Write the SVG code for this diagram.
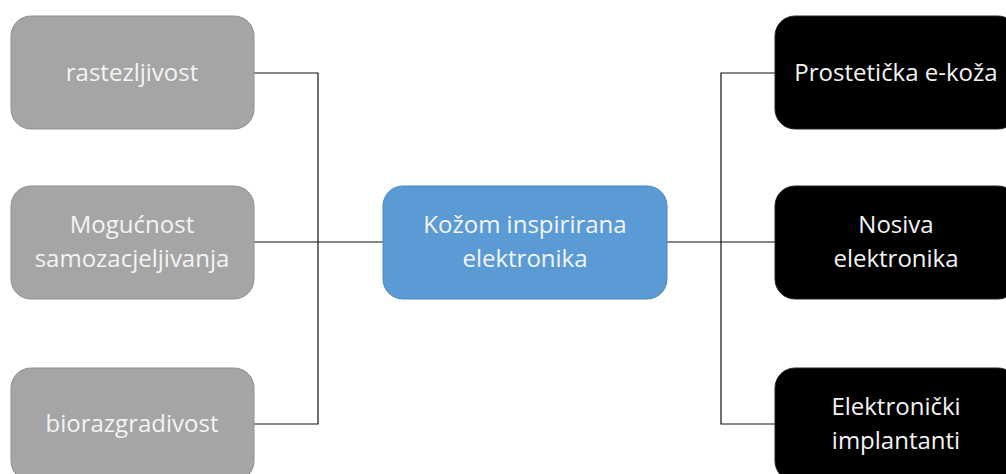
<svg xmlns="http://www.w3.org/2000/svg" width="1006" height="474" viewBox="0 0 1006 474">
<style>
.g{fill:#A5A5A5;stroke:#8F8F8F;stroke-width:1}
.b{fill:#5B9BD5;stroke:#4A86BF;stroke-width:1}
.k{fill:#000;stroke:#222;stroke-width:1}
text{font-family:"Open Sans","Noto Sans","Liberation Sans",sans-serif;font-size:24px;fill:#F4F4F4;text-anchor:middle}
.c{fill:none;stroke:#111;stroke-width:1.2}
</style>
<rect width="1006" height="474" fill="#fff"/>
<g id="connectors">
<path class="c" d="M254 73H318V424H254M254 242H318"/>
<path class="c" d="M318 242H383" stroke-width="2"/>
<path class="c" d="M775 73H721V424H775M775 242H667"/>
</g>
<g id="n1"><rect class="g" x="11" y="16" width="243" height="113" rx="20"/><text x="132" y="81">rastezljivost</text></g>
<g id="n2"><rect class="g" x="11" y="186" width="243" height="113" rx="20"/><text x="132" y="233">Mogućnost</text><text x="132" y="267">samozacjeljivanja</text></g>
<g id="n3"><rect class="g" x="11" y="368" width="243" height="113" rx="20"/><text x="132" y="432">biorazgradivost</text></g>
<g id="center"><rect class="b" x="383" y="186" width="284" height="113" rx="20"/><text x="525" y="233">Kožom inspirirana</text><text x="525" y="267">elektronika</text></g>
<g id="r1"><rect class="k" x="775" y="16" width="243" height="113" rx="20"/><text x="896" y="81">Prostetička e-koža</text></g>
<g id="r2"><rect class="k" x="775" y="186" width="243" height="113" rx="20"/><text x="896" y="233">Nosiva</text><text x="896" y="267">elektronika</text></g>
<g id="r3"><rect class="k" x="775" y="368" width="243" height="113" rx="20"/><text x="896" y="415">Elektronički</text><text x="896" y="449">implantanti</text></g>
</svg>
